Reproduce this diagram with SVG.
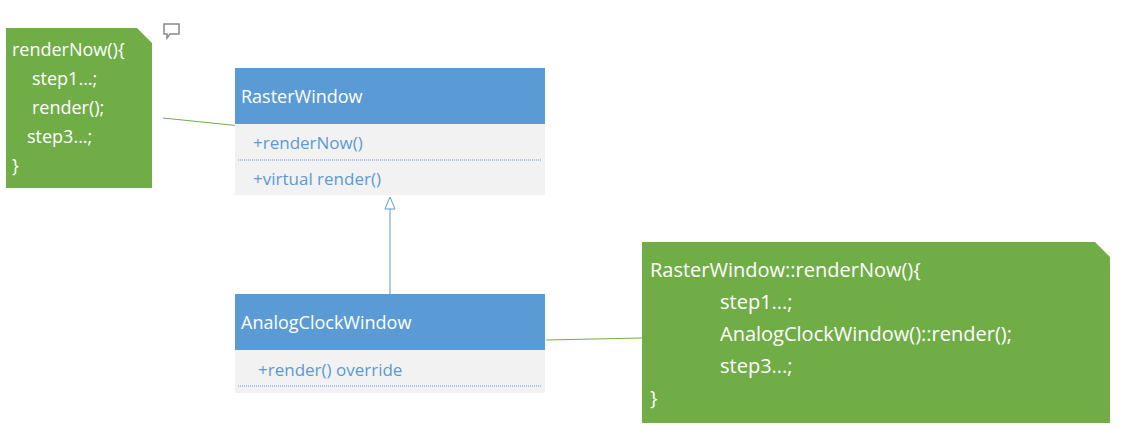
<svg xmlns="http://www.w3.org/2000/svg" width="1143" height="445" viewBox="0 0 1143 445">
<style>
.hdr{fill:#5b9bd5}
.body{fill:#f2f2f2}
.note{fill:#70ad47}
.fold{fill:#fff}
.t{font-family:"Open Sans","Noto Sans",sans-serif}
.ht{fill:#fff;font-size:18px}
.mt{fill:#5b9bd5;font-size:17px}
.nt{fill:#fff;font-size:18px}
.nt2{fill:#fff;font-size:20px}
.dot{stroke:#5b9bd5;stroke-width:1;stroke-dasharray:1 1}
</style>
<rect width="1143" height="445" fill="#fff"/>
<g id="comment-icon" fill="#fff" stroke="#888" stroke-width="1.5">
<path d="M164 24 h15 v10 h-9 l-3 4 v-4 h-3 z"/>
</g>
<g id="connectors">
<line x1="163" y1="118" x2="270" y2="129" stroke="#70ad47" stroke-width="1"/>
<line x1="546" y1="340" x2="642" y2="338" stroke="#70ad47" stroke-width="1"/>
<line x1="390" y1="209" x2="390" y2="294" stroke="#5b9bd5" stroke-width="1"/>
<path d="M390 197 L385 209 L395 209 Z" fill="#fff" stroke="#5b9bd5" stroke-width="1"/>
</g>
<g id="note-left">
<path class="note" d="M6 28 H137 L152 43 V188 H6 Z"/>
<text class="t nt" x="12" y="56">renderNow(){</text>
<text class="t nt" x="32" y="85">step1...;</text>
<text class="t nt" x="32" y="114">render();</text>
<text class="t nt" x="27" y="143">step3...;</text>
<text class="t nt" x="12" y="172">}</text>
</g>
<g id="RasterWindow">
<rect class="hdr" x="235" y="68" width="310" height="56"/>
<rect class="body" x="235" y="124" width="310" height="71"/>
<text class="t ht" x="241" y="103">RasterWindow</text>
<text class="t mt" x="253" y="149">+renderNow()</text>
<line class="dot" x1="238" y1="160" x2="542" y2="160"/>
<text class="t mt" x="253" y="185">+virtual render()</text>
</g>
<g id="AnalogClockWindow">
<rect class="hdr" x="235" y="294" width="310" height="56"/>
<rect class="body" x="235" y="350" width="310" height="43"/>
<text class="t ht" x="241" y="329">AnalogClockWindow</text>
<text class="t mt" x="258" y="376">+render() override</text>
<line class="dot" x1="238" y1="386" x2="542" y2="386"/>
</g>
<g id="note-right">
<path class="note" d="M642 242 H1095 L1110 257 V423 H642 Z"/>
<text class="t nt2" x="650" y="277">RasterWindow::renderNow(){</text>
<text class="t nt2" x="720" y="309">step1...;</text>
<text class="t nt2" x="720" y="341">AnalogClockWindow()::render();</text>
<text class="t nt2" x="720" y="373">step3...;</text>
<text class="t nt2" x="650" y="405">}</text>
</g>
</svg>
